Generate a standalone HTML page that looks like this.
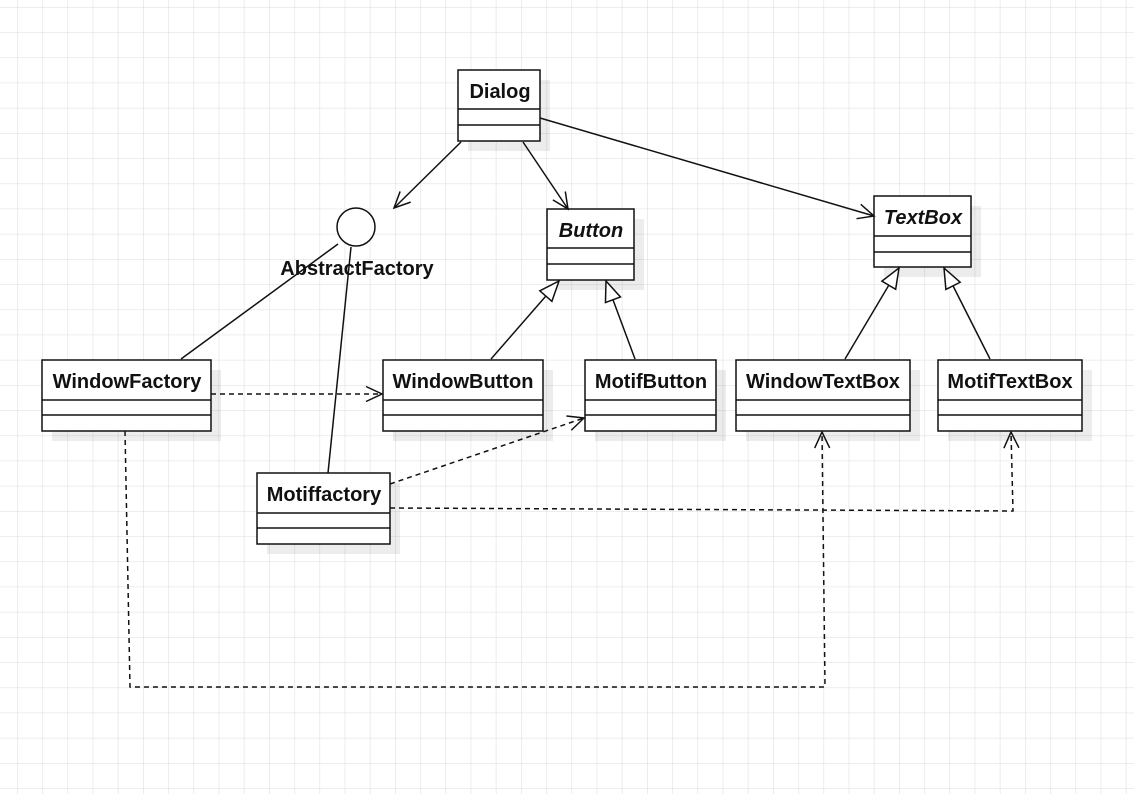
<!DOCTYPE html>
<html><head><meta charset="utf-8"><style>
html,body{margin:0;padding:0;background:#fff}
svg{display:block}
text{font-family:"Liberation Sans",sans-serif;font-weight:bold;font-size:20px;fill:#111}
</style></head><body>
<svg width="1134" height="794" viewBox="0 0 1134 794" xmlns="http://www.w3.org/2000/svg">
<defs>
<pattern id="g" x="17" y="7" width="25.2" height="25.2" patternUnits="userSpaceOnUse">
<path d="M0 0H25.2M0 0V25.2" stroke="#e2e2e2" stroke-width="1.3" fill="none"/>
</pattern>
<marker id="oa" viewBox="0 0 22 22" refX="20" refY="11" markerWidth="22" markerHeight="22" markerUnits="userSpaceOnUse" orient="auto">
<path d="M4 3.5 L20 11 L4 18.5" fill="none" stroke="#111" stroke-width="1.5"/>
</marker>
<marker id="tri" viewBox="0 0 24 24" refX="22" refY="12" markerWidth="24" markerHeight="24" markerUnits="userSpaceOnUse" orient="auto">
<path d="M2 4 L22 12 L2 20 Z" fill="#fff" stroke="#111" stroke-width="1.5"/>
</marker>
</defs>
<rect width="1134" height="794" fill="url(#g)"/>
<g fill="#000" opacity="0.07">
<rect x="468" y="80" width="82" height="71"/>
<rect x="557" y="219" width="87" height="71"/>
<rect x="884" y="206" width="97" height="71"/>
<rect x="52" y="370" width="169" height="71"/>
<rect x="393" y="370" width="160" height="71"/>
<rect x="595" y="370" width="131" height="71"/>
<rect x="746" y="370" width="174" height="71"/>
<rect x="948" y="370" width="144" height="71"/>
<rect x="267" y="483" width="133" height="71"/>
</g>
<g fill="#fff" stroke="#111" stroke-width="1.5">
<rect x="458" y="70" width="82" height="71"/><path d="M458 109H540M458 125H540"/>
<rect x="547" y="209" width="87" height="71"/><path d="M547 248H634M547 264H634"/>
<rect x="874" y="196" width="97" height="71"/><path d="M874 236H971M874 252H971"/>
<rect x="42" y="360" width="169" height="71"/><path d="M42 400H211M42 415H211"/>
<rect x="383" y="360" width="160" height="71"/><path d="M383 400H543M383 415H543"/>
<rect x="585" y="360" width="131" height="71"/><path d="M585 400H716M585 415H716"/>
<rect x="736" y="360" width="174" height="71"/><path d="M736 400H910M736 415H910"/>
<rect x="938" y="360" width="144" height="71"/><path d="M938 400H1082M938 415H1082"/>
<rect x="257" y="473" width="133" height="71"/><path d="M257 513H390M257 528H390"/>
<circle cx="356" cy="227" r="19"/>
</g>
<g stroke="#111" stroke-width="1.5" fill="none">
<line x1="461" y1="142" x2="394" y2="208" marker-end="url(#oa)"/>
<line x1="523" y1="142" x2="568" y2="209" marker-end="url(#oa)"/>
<line x1="540" y1="118" x2="874" y2="216" marker-end="url(#oa)"/>
<line x1="338" y1="244" x2="181" y2="359"/>
<line x1="351" y1="247" x2="328" y2="473"/>
<line x1="491" y1="359" x2="559" y2="281" marker-end="url(#tri)"/>
<line x1="635" y1="359" x2="606" y2="281" marker-end="url(#tri)"/>
<line x1="845" y1="359" x2="899" y2="268" marker-end="url(#tri)"/>
<line x1="990" y1="359" x2="944" y2="268" marker-end="url(#tri)"/>
<g stroke-dasharray="5 4">
<line x1="211" y1="394" x2="382" y2="394" marker-end="url(#oa)"/>
<line x1="390" y1="484" x2="584" y2="418" marker-end="url(#oa)"/>
<polyline points="390,508 1013,511 1011,432" marker-end="url(#oa)"/>
<polyline points="125,431 130,687 825,687 822,432" marker-end="url(#oa)"/>
</g>
</g>
<text x="500" y="98" text-anchor="middle">Dialog</text>
<text x="591" y="237" text-anchor="middle" font-style="italic">Button</text>
<text x="923" y="224" text-anchor="middle" font-style="italic">TextBox</text>
<text x="357" y="275" text-anchor="middle">AbstractFactory</text>
<text x="127" y="388" text-anchor="middle">WindowFactory</text>
<text x="463" y="388" text-anchor="middle">WindowButton</text>
<text x="651" y="388" text-anchor="middle">MotifButton</text>
<text x="823" y="388" text-anchor="middle">WindowTextBox</text>
<text x="1010" y="388" text-anchor="middle">MotifTextBox</text>
<text x="324" y="501" text-anchor="middle">Motiffactory</text>
</svg>
</body></html>
